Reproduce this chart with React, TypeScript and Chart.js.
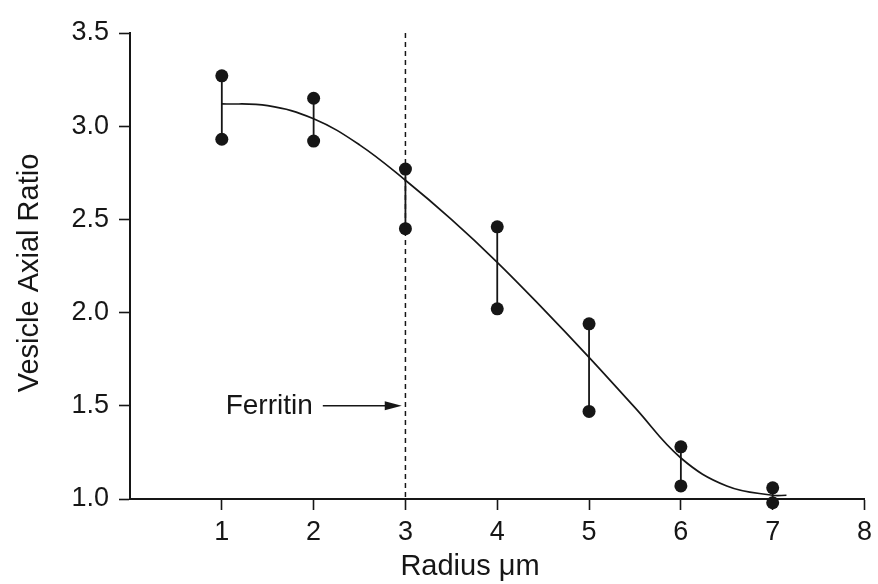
import React, { useEffect, useRef } from 'react';
import { Chart, registerables } from 'chart.js';
Chart.register(...registerables);

const radii = [1, 2, 3, 4, 5, 6, 7];
const upperRatio = [3.27, 3.15, 2.77, 2.46, 1.94, 1.28, 1.06];
const lowerRatio = [2.93, 2.92, 2.45, 2.02, 1.47, 1.07, 0.98];
const fitRadius = [1, 1.5, 2, 2.5, 3, 3.5, 4, 4.5, 5, 5.5, 6, 6.5, 7, 7.15];
const fitRatio = [3.12, 3.11, 3.04, 2.9, 2.71, 2.5, 2.27, 2.02, 1.76, 1.49, 1.22, 1.07, 1.02, 1.02];
const xTickValues = [0, 1, 2, 3, 4, 5, 6, 7, 8];
const yTickValues = [1.0, 1.5, 2.0, 2.5, 3.0, 3.5];
const ferritinRadius = 3;
const ferritinLabel = 'Ferritin';
const ferritinLabelRatio = 1.5;
const ferritinArrowFrom = 2.1;
const ferritinArrowTo = 2.96;
const xTitle = 'Radius \u03bcm';
const yTitle = 'Vesicle Axial Ratio';

const FONT = '"Liberation Sans", Arial, Helvetica, sans-serif';
const INK = '#161616';

export default function App() {
  const ref = useRef<HTMLCanvasElement | null>(null);
  useEffect(() => {
    if (!ref.current) return;
    const errorData: any[] = [];
    radii.forEach((r, i) => {
      errorData.push({ x: r, y: upperRatio[i] });
      errorData.push({ x: r, y: lowerRatio[i] });
      errorData.push({ x: r, y: null });
    });
    const pointData: any[] = [];
    radii.forEach((r, i) => {
      pointData.push({ x: r, y: upperRatio[i] });
      pointData.push({ x: r, y: lowerRatio[i] });
    });
    const fitData = fitRadius.map((r, i) => ({ x: r, y: fitRatio[i] }));
    const ferritinData = [
      { x: ferritinRadius, y: yTickValues[yTickValues.length - 1] },
      { x: ferritinRadius, y: yTickValues[0] },
    ];

    const annot = {
      id: 'annot',
      afterDraw(chart: any) {
        const ctx = chart.ctx;
        const xs = chart.scales.x;
        const ys = chart.scales.y;
        ctx.save();
        ctx.fillStyle = INK;
        ctx.strokeStyle = INK;
        const yp = ys.getPixelForValue(ferritinLabelRatio);
        ctx.font = `28px ${FONT}`;
        ctx.textAlign = 'right';
        ctx.textBaseline = 'middle';
        ctx.fillText(ferritinLabel, xs.getPixelForValue(ferritinArrowFrom) - 10, yp);
        const x0 = xs.getPixelForValue(ferritinArrowFrom);
        const x1 = xs.getPixelForValue(ferritinArrowTo);
        ctx.lineWidth = 1.6;
        ctx.beginPath();
        ctx.moveTo(x0, yp);
        ctx.lineTo(x1 - 14, yp);
        ctx.stroke();
        ctx.beginPath();
        ctx.moveTo(x1, yp);
        ctx.lineTo(x1 - 17, yp - 4.5);
        ctx.lineTo(x1 - 17, yp + 4.5);
        ctx.closePath();
        ctx.fill();
        ctx.font = `29px ${FONT}`;
        ctx.textAlign = 'center';
        ctx.textBaseline = 'middle';
        ctx.fillText(xTitle, 470, 567);
        ctx.translate(30, 273);
        ctx.rotate(-Math.PI / 2);
        ctx.fillText(yTitle, 0, 0);
        ctx.restore();
      },
    };

    const chart = new Chart(ref.current, {
      type: 'scatter',
      data: {
        datasets: [
          {
            type: 'line',
            data: ferritinData,
            borderColor: INK,
            borderWidth: 1.5,
            borderDash: [5, 4],
            pointRadius: 0,
            fill: false,
          } as any,
          {
            type: 'line',
            data: fitData,
            borderColor: INK,
            borderWidth: 1.7,
            pointRadius: 0,
            tension: 0.4,
            fill: false,
            clip: false,
          } as any,
          {
            type: 'line',
            data: errorData,
            borderColor: INK,
            borderWidth: 1.8,
            pointRadius: 0,
            spanGaps: false,
            fill: false,
            clip: false,
          } as any,
          {
            data: pointData,
            backgroundColor: INK,
            borderColor: INK,
            pointRadius: 6.5,
            borderWidth: 0,
            clip: false,
          } as any,
        ],
      },
      options: {
        animation: false,
        responsive: false,
        layout: { padding: { top: 33, right: 10, left: 0, bottom: 0 } },
        plugins: { legend: { display: false }, tooltip: { enabled: false } },
        scales: {
          x: {
            type: 'linear',
            min: 0,
            max: 8,
            afterBuildTicks: (s: any) => {
              s.ticks = xTickValues.map((v) => ({ value: v }));
            },
            afterFit: (s: any) => {
              s.height = 85;
            },
            ticks: {
              callback: (v: any) => (v === 0 ? '' : String(v)),
              font: { family: FONT, size: 27 },
              color: INK,
              padding: 6,
              maxRotation: 0,
            },
            grid: {
              drawOnChartArea: false,
              tickLength: 11,
              tickWidth: 1.6,
              tickColor: (c: any) => (c.tick && c.tick.value === 0 ? 'rgba(0,0,0,0)' : INK),
            },
            border: { display: true, color: INK, width: 2 },
          },
          y: {
            type: 'linear',
            min: 1,
            max: 3.5,
            afterBuildTicks: (s: any) => {
              s.ticks = yTickValues.map((v) => ({ value: v }));
            },
            afterFit: (s: any) => {
              s.width = 130;
            },
            ticks: {
              callback: (v: any) => Number(v).toFixed(1),
              font: { family: FONT, size: 27 },
              color: INK,
              padding: 10,
            },
            grid: {
              drawOnChartArea: false,
              tickLength: 11,
              tickWidth: 1.6,
              tickColor: INK,
            },
            border: { display: true, color: INK, width: 2 },
          },
        },
      },
      plugins: [annot],
    } as any);
    return () => chart.destroy();
  }, []);
  return (
    <div style={{ position: 'absolute', left: 0, top: 0, width: 878, height: 584, background: '#fff' }}>
      <canvas ref={ref} width={878} height={584} />
    </div>
  );
}
